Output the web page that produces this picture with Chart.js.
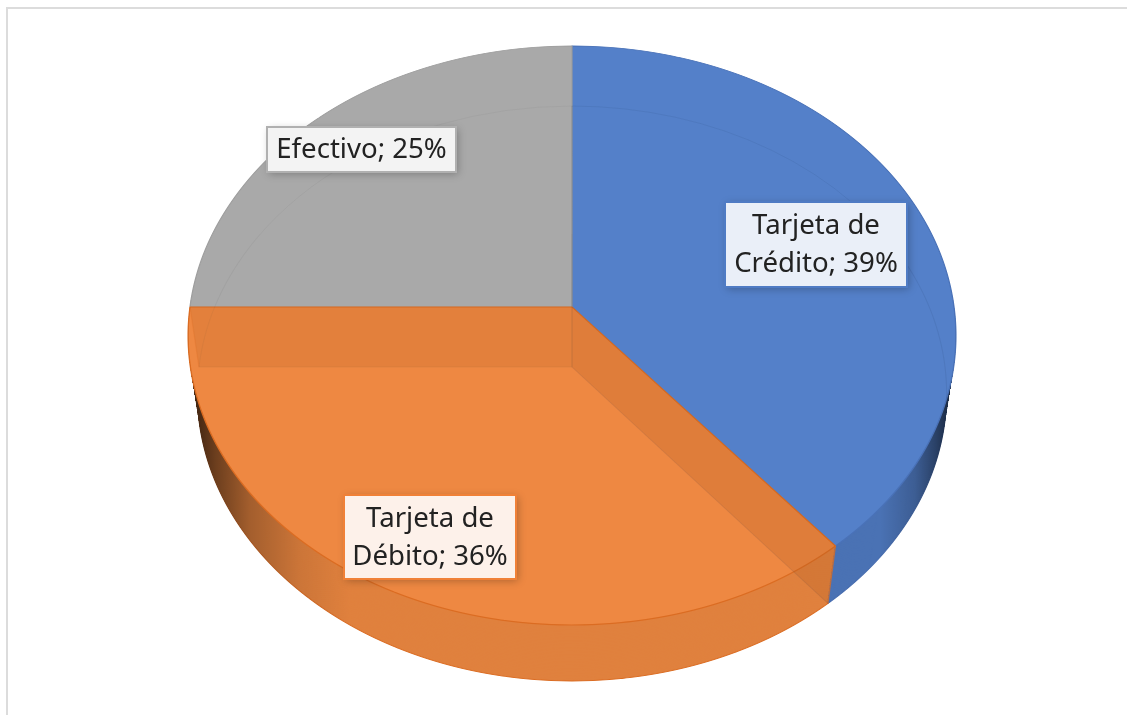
<!DOCTYPE html>
<html><head><meta charset="utf-8">
<style>
html,body{margin:0;padding:0;background:#fff;width:1127px;height:715px;overflow:hidden}
#frame{position:absolute;left:6px;top:7px;right:0;bottom:0;border-left:2px solid #dcdcdc;border-top:2px solid #dcdcdc}
canvas{position:absolute;left:0;top:0;display:block}
</style>
<script src="https://cdn.jsdelivr.net/npm/chart.js@4"></script>
</head><body>
<div id="frame"></div>
<canvas id="c" width="1127" height="715"></canvas>
<script>
const categories = ["Tarjeta de Crédito", "Tarjeta de Débito", "Efectivo"];
const shares = [39, 36, 25];
const faceColors = ["#5480C9", "#EE8842", "#A9A9A9"];
const edgeColors = ["#4A72B8", "#DB6C22", "#9E9E9E"];
const sideColors = ["#4A72B4", "#E0813E", "#8A8A8A"];
const labelBorders = ["#4F7BC4", "#F08138", "#B0B0B0"];
const labelFills = ["#EAEFF8", "#FDF1EA", "#F3F3F3"];
const labelBoxes = [[725, 202, 182, 85], [344, 495, 172, 84], [267, 127, 189, 45]];

// Perspective of the tilted disc: top face and bottom face.
const topFace = {cx: 572, y0: 307, a: 382, b: 286.7, p: -0.0984};
const bottomFace = {cx: 572, y0: 367, a: 373, b: 285, p: -0.0922};
const mix = (t) => {
  const o = {};
  for (const k in topFace) o[k] = topFace[k] + (bottomFace[k] - topFace[k]) * t;
  return o;
};
const project = (f, ang) => {
  const u = Math.cos(ang), v = Math.sin(ang), w = 1 + f.p * v;
  return [f.cx + f.a * u / w, f.y0 + f.b * v / w];
};
function drawFace(chart, f, order, overrides, y1, y2, step) {
  const ctx = chart.ctx, els = chart.getDatasetMeta(0).data;
  const ex = els[0].x, ey = els[0].y, R = els[0].outerRadius;
  for (let Y = y1; Y < y2; Y += step) {
    const d = Y + step / 2 - f.y0;
    const v = d / (f.b - d * f.p);
    if (Math.abs(v) > 1.03) continue;
    const w = 1 + f.p * v, dy = f.b / (w * w);
    const sx = f.a / (w * R), sy = dy / R;
    const tx = f.cx, ty = Y + step / 2 - v * dy;
    ctx.save();
    ctx.beginPath(); ctx.rect(0, Y, 1127, step); ctx.clip();
    ctx.setTransform(sx, 0, 0, sy, tx - ex * sx, ty - ey * sy);
    for (const i of order) {
      const el = els[i], saved = el.options;
      el.options = Object.assign({}, saved, overrides(i));
      el.draw(ctx);
      el.options = saved;
    }
    ctx.restore();
  }
}
const pie3d = {
  id: "pie3d",
  beforeDatasetsDraw(chart) {
    const ctx = chart.ctx, els = chart.getDatasetMeta(0).data;
    const order = [0, 2, 1];
    // side wall, extruded from the bottom face upward
    const layers = 40;
    for (let k = layers; k >= 0; k--) {
      const t = k / layers;
      const edge = k === layers;
      drawFace(chart, mix(t), order, i => ({
        backgroundColor: sideColors[i],
        borderColor: edge ? edgeColors[i] : sideColors[i],
        borderWidth: edge ? 1 : 0
      }), 300, 690, edge ? 1 : 2);
    }
    // side shading, horizontal, only on what is painted
    ctx.save();
    ctx.globalCompositeOperation = "source-atop";
    const g = ctx.createLinearGradient(188, 0, 956, 0);
    const stops = [[188, .78], [215, .52], [250, .27], [300, .09], [350, 0], [880, 0], [915, .18], [935, .42], [956, .72]];
    for (const [x, al] of stops) g.addColorStop((x - 188) / 768, `rgba(0,0,0,${al})`);
    ctx.fillStyle = g;
    ctx.fillRect(0, 0, 1127, 715);
    ctx.restore();
    // top face
    drawFace(chart, topFace, order, i => ({}), 40, 632, 1);
    // bottom disc seen through the faces
    drawFace(chart, bottomFace, [0, 2], i => ({
      backgroundColor: "rgba(0,0,0,0)",
      borderColor: i === 0 ? "rgba(25,45,90,.1)" : "rgba(70,70,70,.07)",
      borderWidth: 1
    }), 100, 620, 1);
    // cut walls of the neighbouring slices, seen through the orange slice
    const walls = [[els[1].startAngle, "rgba(165,85,30,.2)", .75], [els[1].endAngle, "rgba(170,85,30,.15)", .25]];
    for (const [ang, col, edgeAlpha] of walls) {
      const A = project(topFace, ang), B = project(bottomFace, ang);
      ctx.beginPath();
      ctx.moveTo(topFace.cx, topFace.y0);
      ctx.lineTo(A[0], A[1]);
      ctx.lineTo(B[0], B[1]);
      ctx.lineTo(bottomFace.cx, bottomFace.y0);
      ctx.closePath();
      ctx.fillStyle = col;
      ctx.fill();
      ctx.beginPath(); ctx.moveTo(A[0], A[1]); ctx.lineTo(B[0], B[1]);
      ctx.strokeStyle = `rgba(219,108,34,${edgeAlpha})`; ctx.lineWidth = 1.2; ctx.stroke();
    }
    return false;
  },
  afterDraw(chart) {
    const ctx = chart.ctx;
    categories.forEach((name, i) => {
      const [x, y, w, h] = labelBoxes[i];
      ctx.save();
      ctx.shadowColor = "rgba(0,0,0,.26)"; ctx.shadowBlur = 8; ctx.shadowOffsetX = 2; ctx.shadowOffsetY = 2;
      ctx.fillStyle = labelFills[i];
      ctx.fillRect(x, y, w, h);
      ctx.restore();
      ctx.strokeStyle = labelBorders[i]; ctx.lineWidth = 2;
      ctx.strokeRect(x, y, w, h);
      const lines = `${name}; ${shares[i]}%`.replace(" de ", " de\n").split("\n");
      ctx.fillStyle = "#222";
      ctx.font = '27.6px "Noto Sans"';
      ctx.textAlign = "center"; ctx.textBaseline = "middle";
      const lh = 38, cy = y + h / 2 + 1;
      lines.forEach((s, k) => ctx.fillText(s, x + w / 2, cy + (k - (lines.length - 1) / 2) * lh));
    });
  }
};
new Chart(document.getElementById("c"), {
  type: "pie",
  data: {
    labels: categories,
    datasets: [{data: shares, backgroundColor: faceColors, borderColor: edgeColors, borderWidth: 1.2}]
  },
  options: {
    responsive: false, animation: false,
    events: [],
    layout: {padding: 0},
    plugins: {legend: {display: false}, tooltip: {enabled: false}}
  },
  plugins: [pie3d]
});
</script>
</body></html>
